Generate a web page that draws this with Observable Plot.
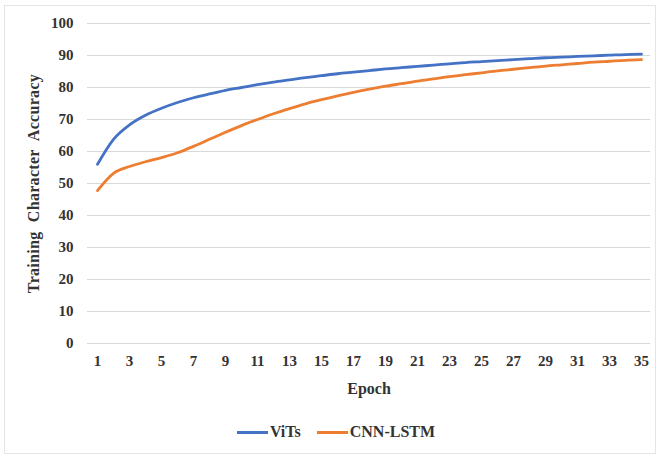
<!DOCTYPE html>
<html>
<head>
<meta charset="utf-8">
<script src="https://cdn.jsdelivr.net/npm/d3@7"></script>
<script src="https://cdn.jsdelivr.net/npm/@observablehq/plot@0.6"></script>
<style>
  html, body { margin: 0; padding: 0; background: #fff; }
  #wrap { position: relative; width: 660px; height: 458px; font-family: "Liberation Serif", "Times New Roman", serif; }
  #frame { position: absolute; left: 4px; top: 5px; width: 652px; height: 449px; border: 1px solid #e4e4e4; box-sizing: border-box; }
  #chart { position: absolute; left: 0; top: 0; }
  #legend { position: absolute; top: 423px; left: 0; width: 672px; display: flex; justify-content: center; gap: 16px; font-weight: bold; font-size: 16px; color: #333; }
  .item { display: flex; align-items: center; gap: 2px; }
  .sw { width: 31px; height: 3px; display: inline-block; }
</style>
</head>
<body>
<div id="wrap">
  <div id="frame"></div>
  <div id="chart"></div>
  <div id="legend"></div>
</div>
<script>
const epochs = Array.from({length: 35}, (_, i) => i + 1);
const seriesNames = ["ViTs", "CNN-LSTM"];
const seriesColors = ["#4472C4", "#ED7D31"];
const vits = [56.0, 63.8, 68.3, 71.3, 73.5, 75.3, 76.8, 78.0, 79.1, 80.0,
              80.9, 81.7, 82.4, 83.1, 83.7, 84.3, 84.8, 85.3, 85.8, 86.2,
              86.6, 87.0, 87.4, 87.8, 88.1, 88.4, 88.7, 89.0, 89.3, 89.5,
              89.7, 89.9, 90.1, 90.3, 90.4];
const cnnLstm = [47.8, 53.2, 55.3, 56.8, 58.1, 59.6, 61.6, 63.8, 66.0, 68.1,
                 70.0, 71.8, 73.4, 74.9, 76.2, 77.4, 78.5, 79.5, 80.4, 81.2,
                 82.0, 82.7, 83.4, 84.0, 84.6, 85.2, 85.7, 86.2, 86.7, 87.1,
                 87.5, 87.9, 88.2, 88.5, 88.7];
const xTicks = epochs.filter(e => e % 2 === 1);
const yTicks = [0, 10, 20, 30, 40, 50, 60, 70, 80, 90, 100];

const data = [];
[vits, cnnLstm].forEach((vals, s) => {
  vals.forEach((v, i) => data.push({epoch: epochs[i], value: v, series: seriesNames[s]}));
});

const chart = Plot.plot({
  width: 660,
  height: 400,
  marginLeft: 87,
  marginRight: 10,
  marginTop: 23,
  marginBottom: 57,
  style: {fontFamily: '"Liberation Serif", "Times New Roman", serif', fontWeight: "bold", fontSize: "15px", color: "#333", background: "transparent"},
  x: {type: "point", domain: epochs, padding: 0.5},
  y: {domain: [0, 100]},
  color: {domain: seriesNames, range: seriesColors},
  marks: [
    Plot.gridY(yTicks, {stroke: "#d9d9d9", strokeOpacity: 1, strokeWidth: 1}),
    Plot.axisY(yTicks, {tickSize: 0, tickPadding: 14, label: "Training Character Accuracy", labelAnchor: "center", labelArrow: "none", labelOffset: 60, fontSize: 15}),
    Plot.axisX(xTicks, {tickSize: 0, tickPadding: 12, label: "Epoch", labelAnchor: "center", labelArrow: "none", labelOffset: 50, fontSize: 15}),
    Plot.line(data, {x: "epoch", y: "value", z: "series", stroke: "series", strokeWidth: 2.8, curve: "monotone-x"})
  ]
});
chart.querySelectorAll('[aria-label="x-axis label"] text').forEach(t => {
  t.setAttribute("font-size", "16");
});
chart.querySelectorAll('[aria-label="y-axis label"] text').forEach(t => {
  t.setAttribute("font-size", "16");
  t.style.wordSpacing = "5px";
  t.style.letterSpacing = "0.3px";
});
document.getElementById("chart").appendChild(chart);

const legend = document.getElementById("legend");
seriesNames.forEach((n, i) => {
  const it = document.createElement("div");
  it.className = "item";
  const sw = document.createElement("span");
  sw.className = "sw";
  sw.style.background = seriesColors[i];
  const tx = document.createElement("span");
  tx.textContent = n;
  it.appendChild(sw); it.appendChild(tx);
  legend.appendChild(it);
});
</script>
</body>
</html>
